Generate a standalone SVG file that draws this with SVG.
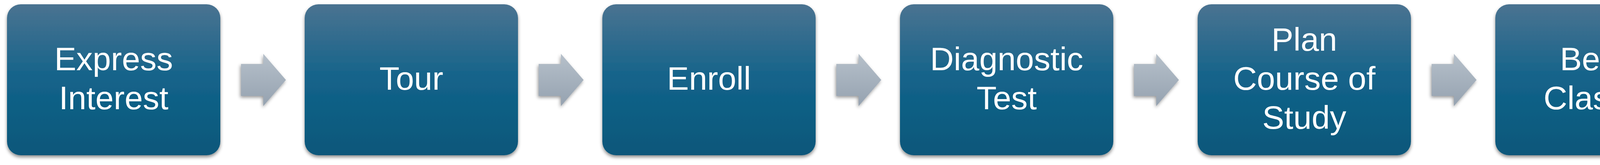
<svg xmlns="http://www.w3.org/2000/svg" width="4391" height="423" viewBox="0 0 4391 423">
<defs>
<linearGradient id="boxGrad" x1="0" y1="0" x2="0" y2="1">
<stop offset="0" stop-color="#4a7391"/>
<stop offset="0.5" stop-color="#13638a"/>
<stop offset="1" stop-color="#0a577a"/>
</linearGradient>
<linearGradient id="arrowGrad" x1="0" y1="0" x2="0" y2="1">
<stop offset="0" stop-color="#b6c0ca"/>
<stop offset="1" stop-color="#95a2b0"/>
</linearGradient>
<filter id="shadow" x="-10%" y="-10%" width="120%" height="125%">
<feDropShadow dx="0" dy="5" stdDeviation="4" flood-color="#000" flood-opacity="0.45"/>
</filter>
<filter id="ashadow" x="-20%" y="-20%" width="140%" height="140%">
<feDropShadow dx="-2" dy="4" stdDeviation="4" flood-color="#000" flood-opacity="0.4"/>
</filter>
<polygon id="arrowShape" points="617,164 674,164 674,138 732,205 674,272 674,246 617,246"/>
</defs>
<style>
.box { fill: url(#boxGrad); filter: url(#shadow); }
.label { font-family: "Liberation Sans", Arial, sans-serif; font-size: 84px; fill: #ffffff; text-anchor: middle; }
.arrow { fill: url(#arrowGrad); filter: url(#ashadow); }
</style>
<rect width="4391" height="423" fill="#ffffff"/>
<g id="connectors">
<use href="#arrowShape" class="arrow"/>
<use href="#arrowShape" class="arrow" x="762"/>
<use href="#arrowShape" class="arrow" x="1524"/>
<use href="#arrowShape" class="arrow" x="2286"/>
<use href="#arrowShape" class="arrow" x="3048"/>
</g>
<g id="node-express">
<rect class="box" x="18" y="11" width="546" height="387" rx="35"/>
<text class="label" x="291" y="180">Express</text>
<text class="label" x="291" y="280">Interest</text>
</g>
<g id="node-tour">
<rect class="box" x="780" y="11" width="546" height="387" rx="35"/>
<text class="label" x="1053" y="230">Tour</text>
</g>
<g id="node-enroll">
<rect class="box" x="1542" y="11" width="546" height="387" rx="35"/>
<text class="label" x="1815" y="230">Enroll</text>
</g>
<g id="node-diagnostic">
<rect class="box" x="2304" y="11" width="546" height="387" rx="35"/>
<text class="label" x="2577" y="180">Diagnostic</text>
<text class="label" x="2577" y="280">Test</text>
</g>
<g id="node-plan">
<rect class="box" x="3066" y="11" width="546" height="387" rx="35"/>
<text class="label" x="3339" y="130">Plan</text>
<text class="label" x="3339" y="230">Course of</text>
<text class="label" x="3339" y="330">Study</text>
</g>
<g id="node-begin">
<rect class="box" x="3828" y="11" width="546" height="387" rx="35"/>
<text class="label" x="4101" y="180">Begin</text>
<text class="label" x="4101" y="280">Classes</text>
</g>
</svg>
